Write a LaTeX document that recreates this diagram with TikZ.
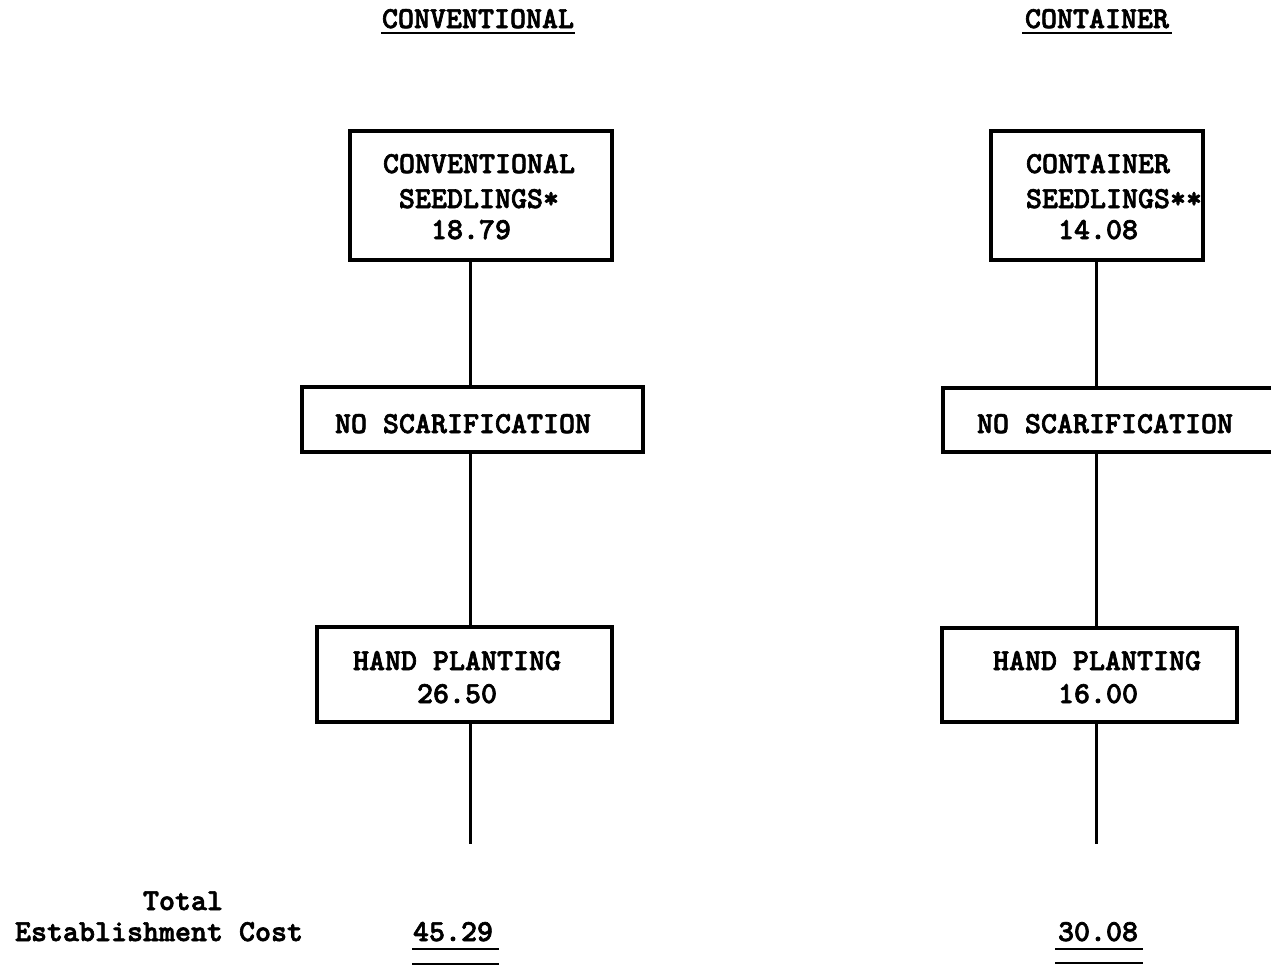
\documentclass[tikz,border=0pt]{standalone}
\usepackage{fontspec}
% heavy typewriter face from Latin Modern
\newfontfamily\tw[FakeBold=2.2]{lmmonolt10-bold.otf}
\newcommand{\twsize}{\fontsize{15.24pt}{16pt}\selectfont}
\begin{document}
\begin{tikzpicture}[x=0.5pt,y=-0.5pt,
  every node/.style={inner sep=0pt,outer sep=0pt},
  box/.style={draw,line width=1.6pt,inner sep=0pt},
  txt/.style={anchor=base west,font=\tw\twsize},
  spine/.style={line width=1.5pt},
  rule/.style={line width=1.4pt}]
\useasboundingbox (0,0) rectangle (1271,966);

% column headings
\node[txt] (hconv) at (382,28) {CONVENTIONAL};
\node[txt] (hcont) at (1025,28) {CONTAINER};
\draw[rule] ([xshift=-0.5pt,yshift=-2.5pt]hconv.base west) -- ([xshift=0.5pt,yshift=-2.5pt]hconv.base east);
\draw[rule] ([xshift=-1.5pt,yshift=-2.5pt]hcont.base west) -- ([xshift=1.5pt,yshift=-2.5pt]hcont.base east);

% conventional column boxes
\node[box,minimum width=131pt,minimum height=64.5pt] (seedL) at (481,195.5) {};
\node[box,minimum width=170.5pt,minimum height=32.5pt] (scarL) at (472.5,419.5) {};
\node[box,minimum width=147.5pt,minimum height=47.5pt] (plantL) at (464.5,674.5) {};

% container column boxes
\node[box,minimum width=106pt,minimum height=64.5pt] (seedR) at (1097,195.5) {};
\node[box,minimum width=173.5pt,minimum height=32pt] (scarR) at (1116.5,420) {};
\node[box,minimum width=147.5pt,minimum height=47pt] (plantR) at (1089.5,675) {};

% box texts
\node[txt] (sL1) at (383,173) {CONVENTIONAL};
\node[txt] (sL2) at (399,208) {SEEDLINGS*};
\node[txt] (sL3) at (431,239) {18.79};
\node[txt] (sR1) at (1026,173) {CONTAINER};
\node[txt] (sR2) at (1026,208) {SEEDLINGS**};
\node[txt] (sR3) at (1058,239) {14.08};
\node[txt] (nsL) at (335,433) {NO SCARIFICATION};
\node[txt] (nsR) at (977,433) {NO SCARIFICATION};
\node[txt] (hpL1) at (353,670) {HAND PLANTING};
\node[txt] (hpL2) at (417,703) {26.50};
\node[txt] (hpR1) at (993,670) {HAND PLANTING};
\node[txt] (hpR2) at (1058,703) {16.00};

% vertical connectors
\coordinate (axL) at (470,0);
\coordinate (axR) at (1096,0);
\coordinate (endL) at (470,844);
\coordinate (endR) at (1096,844);
\draw[spine] (seedL.south -| axL) -- (scarL.north -| axL);
\draw[spine] (scarL.south -| axL) -- (plantL.north -| axL);
\draw[spine] (plantL.south -| axL) -- (endL);
\draw[spine] (seedR.south -| axR) -- (scarR.north -| axR);
\draw[spine] (scarR.south -| axR) -- (plantR.north -| axR);
\draw[spine] (plantR.south -| axR) -- (endR);

% totals
\node[txt] (tot1) at (143,910) {Total};
\node[txt] (tot2) at (15,941) {Establishment Cost};
\node[txt] (sumL) at (413,941) {45.29};
\node[txt] (sumR) at (1058,941) {30.08};
\draw[rule] ([xshift=-0.5pt,yshift=-4pt]sumL.base west) -- ([xshift=3pt,yshift=-4pt]sumL.base east);
\draw[rule] ([xshift=-0.5pt,yshift=-11.5pt]sumL.base west) -- ([xshift=3pt,yshift=-11.5pt]sumL.base east);
\draw[rule] ([xshift=-1.5pt,yshift=-4pt]sumR.base west) -- ([xshift=2.5pt,yshift=-4pt]sumR.base east);
\draw[rule] ([xshift=-1.5pt,yshift=-11pt]sumR.base west) -- ([xshift=2.5pt,yshift=-11pt]sumR.base east);
\end{tikzpicture}
\end{document}
